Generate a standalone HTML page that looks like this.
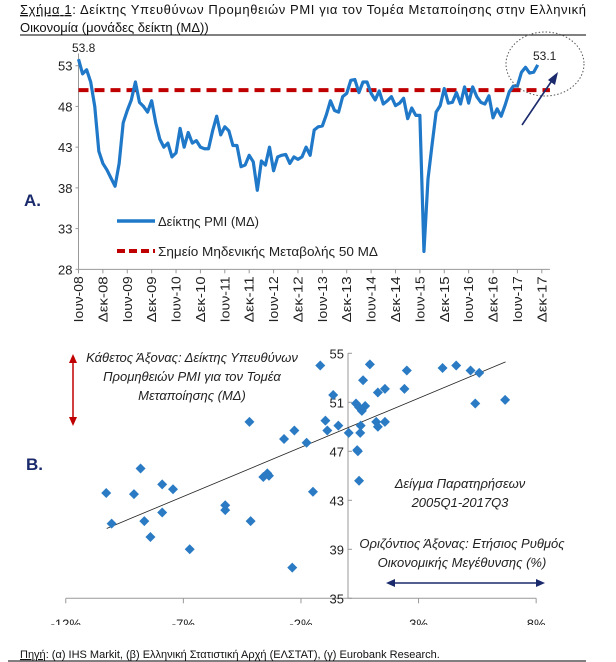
<!DOCTYPE html>
<html><head><meta charset="utf-8"><style>
body{margin:0;background:#fff;width:616px;height:662px;overflow:hidden;font-family:"Liberation Sans",sans-serif;}
svg{display:block}
</style></head><body>
<svg width="616" height="662" viewBox="0 0 616 662" font-family="Liberation Sans, DejaVu Sans, sans-serif">
<text x="20" y="14" font-size="13" fill="#111" textLength="566" lengthAdjust="spacing"><tspan text-decoration="underline">Σχήμα 1</tspan>: Δείκτης Υπευθύνων Προμηθειών PMI για τον Τομέα Μεταποίησης στην Ελληνική</text>
<text x="20" y="32" font-size="13" fill="#111">Οικονομία (μονάδες δείκτη (ΜΔ))</text>
<line x1="20" y1="35" x2="586" y2="35" stroke="#000" stroke-width="1"/>
<g id="chartA"></g>
<g id="chartB"></g>
<rect x="30" y="625" width="540" height="18" fill="#fff"/>
<text x="20" y="658" font-size="11" fill="#111"><tspan text-decoration="underline">Πηγή</tspan>: (α) IHS Markit, (β) Ελληνική Στατιστική Αρχή (ΕΛΣΤΑΤ), (γ) Eurobank Research.</text>
<line x1="8" y1="661" x2="586" y2="661" stroke="#000" stroke-width="1"/>
</svg>
<script>
const pmiValues=[53.8,52.0,52.5,51.0,48.0,42.5,41.0,40.2,39.2,38.2,41.0,46.0,47.5,48.8,51.0,48.5,48.0,47.3,48.7,46.0,44.0,43.0,43.5,41.8,42.3,45.3,43.0,44.8,43.5,43.8,43.0,42.8,42.8,45.0,46.8,44.5,45.5,45.0,43.2,43.2,40.6,40.8,42.0,41.2,37.7,41.3,40.8,43.0,40.1,41.8,42.0,42.1,41.0,41.8,41.5,41.8,43.0,42.0,45.1,45.5,45.6,47.0,48.7,47.5,47.3,49.2,49.6,51.2,51.3,49.7,51.0,51.0,49.6,48.8,49.9,48.3,48.7,49.2,48.1,48.4,49.0,46.5,47.8,46.9,46.9,30.2,39.1,43.3,47.3,48.1,50.2,48.4,48.5,49.7,48.3,50.4,48.4,50.4,49.2,48.5,48.3,49.3,46.6,47.7,46.8,48.2,49.8,50.5,50.5,52.2,52.8,52.1,52.2,53.1];
const pmiYTicks=[53,48,43,38,33,28];
const monthLabels=["Ιουν-08","Δεκ-08","Ιουν-09","Δεκ-09","Ιουν-10","Δεκ-10","Ιουν-11","Δεκ-11","Ιουν-12","Δεκ-12","Ιουν-13","Δεκ-13","Ιουν-14","Δεκ-14","Ιουν-15","Δεκ-15","Ιουν-16","Δεκ-16","Ιουν-17","Δεκ-17"];
const thresholdValue=[50];
const scatterGrowth=[-1.18,-0.63,-0.96,-0.88,-0.41,-4.19,-2.28,-2.72,-1.76,-1.49,-2.37,-3.43,-3.36,-3.60,-5.22,-5.22,-4.14,-6.73,-8.40,-8.66,-7.90,-10.05,-10.28,-9.10,-8.82,-7.90,-7.44,0.03,0.34,0.39,0.42,0.47,0.52,0.54,0.47,0.59,0.73,0.64,0.93,1.27,1.57,1.20,1.27,1.57,2.40,2.50,4.02,4.60,5.21,5.58,5.41,6.68];
const scatterPmi=[54.0,51.6,49.5,48.7,49.1,49.4,48.7,48.0,47.7,43.7,37.5,45.2,45.0,44.9,42.6,42.2,41.3,39.0,40.0,41.3,42.0,41.1,43.6,43.5,45.6,44.3,43.9,48.5,50.9,47.1,47.0,44.6,48.5,49.1,50.6,50.3,50.7,52.8,54.1,51.8,52.1,49.4,49.0,49.4,52.1,53.6,53.8,54.0,53.6,53.4,50.9,51.2];
const scatterYTicks=[55,51,47,43,39,35];
const scatterXTicks=[-12,-7,-2,3,8];
const trendX=[-10.26,6.70];
const trendY=[40.7,54.3];

const NS="http://www.w3.org/2000/svg";
function mk(parent,tag,attrs,txt){const e=document.createElementNS(NS,tag);for(const k in attrs)e.setAttribute(k,attrs[k]);if(txt!==undefined)e.textContent=txt;parent.appendChild(e);return e;}

// ---- Chart A ----
const A=document.getElementById('chartA');
const ax0=78.5, axStep=4.064, ay=v=>65.7+(53-v)*8.145, axx=i=>ax0+i*axStep;
const aEnd=axx(116);
let e;
e=mk(A,'line',{x1:ax0,y1:ay(54.5),x2:ax0,y2:ay(28),stroke:'#999','stroke-width':1});


e=mk(A,'line',{x1:ax0,y1:ay(28),x2:aEnd,y2:ay(28),stroke:'#999','stroke-width':1});


pmiYTicks.forEach(t=>{
 e=mk(A,'text',{x:ax0-6,y:ay(t)+5,'font-size':13,'text-anchor':'end',fill:'#222'},String(t));
 
 
 mk(A,'line',{x1:ax0-3,y1:ay(t),x2:ax0,y2:ay(t),stroke:'#999'});
});
monthLabels.forEach((l,i)=>{
 const x=axx(i*6);
 mk(A,'line',{x1:x,y1:ay(28),x2:x,y2:ay(28)+4,stroke:'#999'});
 e=mk(A,'text',{transform:`translate(${x+4.5},${ay(28)+7}) rotate(-90)`,'font-size':13,'text-anchor':'end',fill:'#222',textLength:46,lengthAdjust:'spacingAndGlyphs'},l);
 
 
});
e=mk(A,'line',{x1:ax0,y1:ay(thresholdValue[0]),x2:aEnd,y2:ay(thresholdValue[0]),stroke:'#c00000','stroke-width':4,'stroke-dasharray':'10,6'});


e=mk(A,'polyline',{points:pmiValues.map((v,i)=>axx(i)+','+ay(v)).join(' '),fill:'none',stroke:'#1f78c8','stroke-width':3.2,'stroke-linejoin':'round'});


e=mk(A,'text',{x:72,y:52,'font-size':12,fill:'#222'},pmiValues[0].toFixed(1));


e=mk(A,'text',{x:533,y:60,'font-size':12,fill:'#222'},pmiValues[pmiValues.length-1].toFixed(1));


e=mk(A,'ellipse',{cx:545,cy:64,rx:39,ry:32,fill:'none',stroke:'#555','stroke-width':1,'stroke-dasharray':'1.5,2'});


e=mk(A,'line',{x1:522,y1:125,x2:553,y2:79,stroke:'#1a2a6c','stroke-width':1.6});


mk(A,'polygon',{points:'558,72 555,85 548,80',fill:'#1a2a6c'});
e=mk(A,'text',{x:24,y:206,'font-size':17,'font-weight':'bold',fill:'#1a2a6c'},'A.');


e=mk(A,'line',{x1:117,y1:221,x2:155,y2:221,stroke:'#1f78c8','stroke-width':3.5});


e=mk(A,'text',{x:158,y:226,'font-size':13,fill:'#222'},'Δείκτης PMI (ΜΔ)');


e=mk(A,'line',{x1:117,y1:251,x2:155,y2:251,stroke:'#c00000','stroke-width':4,'stroke-dasharray':'8,4'});


e=mk(A,'text',{x:158,y:256,'font-size':13,fill:'#222',textLength:220,lengthAdjust:'spacingAndGlyphs'},'Σημείο Μηδενικής Μεταβολής 50 ΜΔ');



// ---- Chart B ----
const B=document.getElementById('chartB');
const bx=p=>348+p*23.52, by=v=>353.3+(55-v)*12.25;
e=mk(B,'line',{x1:bx(0),y1:by(55),x2:bx(0),y2:by(35),stroke:'#999'});


e=mk(B,'line',{x1:bx(-12),y1:by(35),x2:bx(8),y2:by(35),stroke:'#999'});


scatterYTicks.forEach(t=>{
 mk(B,'line',{x1:bx(0),y1:by(t),x2:bx(0)+4,y2:by(t),stroke:'#999'});
 e=mk(B,'text',{x:bx(0)-4,y:by(t)+5,'font-size':13,'text-anchor':'end',fill:'#222'},String(t));
 
 
});
scatterXTicks.forEach(t=>{
 mk(B,'line',{x1:bx(t),y1:by(35),x2:bx(t),y2:by(35)+5,stroke:'#999'});
 e=mk(B,'text',{x:bx(t),y:by(35)+30,'font-size':13,'text-anchor':'middle',fill:'#222'},t+'%');
 
 
});
e=mk(B,'line',{x1:bx(trendX[0]),y1:by(trendY[0]),x2:bx(trendX[1]),y2:by(trendY[1]),stroke:'#222','stroke-width':0.8});


scatterGrowth.forEach((g,i)=>{
 const x=bx(g),y=by(scatterPmi[i]);
 e=mk(B,'polygon',{points:`${x},${y-5} ${x+5},${y} ${x},${y+5} ${x-5},${y}`,fill:'#2b7bc4'});
 
 
});
const it={'font-size':13,'font-style':'italic',fill:'#222','text-anchor':'middle'};
[['Κάθετος Άξονας: Δείκτης Υπευθύνων',362],['Προμηθειών PMI για τον Τομέα',381],['Μεταποίησης (ΜΔ)',400]].forEach(([t,y])=>{
 e=mk(B,'text',Object.assign({x:192,y:y},it),t);
 
 
});
[['Δείγμα Παρατηρήσεων',488],['2005Q1-2017Q3',507]].forEach(([t,y])=>{
 e=mk(B,'text',Object.assign({x:460,y:y},it),t);
 
 
});
[['Οριζόντιος Άξονας: Ετήσιος Ρυθμός',548],['Οικονομικής Μεγέθυνσης (%)',567]].forEach(([t,y])=>{
 e=mk(B,'text',Object.assign({x:462,y:y},it),t);
 
 
});
e=mk(B,'line',{x1:73,y1:362,x2:73,y2:418,stroke:'#c00000','stroke-width':1.5});


mk(B,'polygon',{points:'73,354 69,363 77,363',fill:'#c00000'});
mk(B,'polygon',{points:'73,426 69,417 77,417',fill:'#c00000'});
e=mk(B,'line',{x1:392,y1:583,x2:538,y2:583,stroke:'#1a2a6c','stroke-width':1.5});


mk(B,'polygon',{points:'386,583 395,579 395,587',fill:'#1a2a6c'});
mk(B,'polygon',{points:'545,583 536,579 536,587',fill:'#1a2a6c'});
e=mk(B,'text',{x:26,y:470,'font-size':17,'font-weight':'bold',fill:'#1a2a6c'},'B.');


</script>
</body></html>
